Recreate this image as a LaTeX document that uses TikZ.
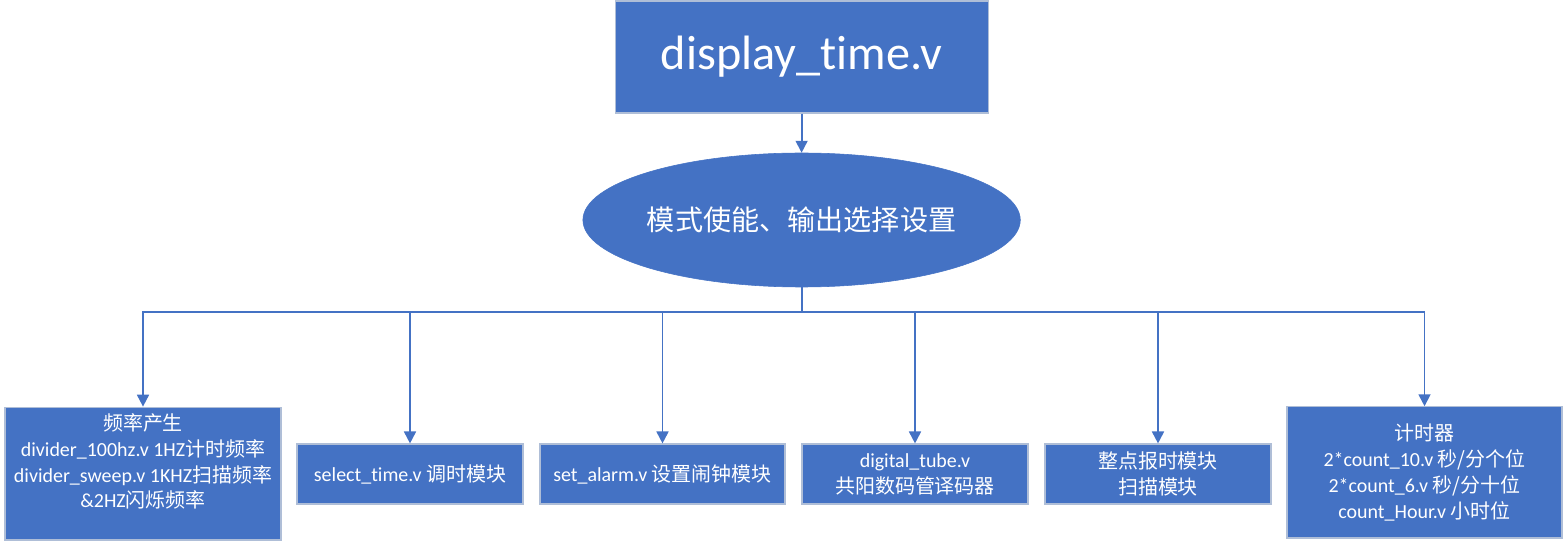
\documentclass[tikz,border=0pt]{standalone}
\usepackage{fontspec}
\setmainfont{Carlito}[Ligatures=NoCommon]
\newfontfamily\cjk{Noto Sans CJK SC}
\usepackage{tikz}
\usetikzlibrary{arrows.meta,positioning,shapes.geometric}
\definecolor{tbblue}{RGB}{68,114,196}
\definecolor{tbedge}{RGB}{175,190,215}
\tikzset{
    block/.style={
        draw=tbedge,line width=0.8pt,fill=tbblue,text=white,
        align=center,inner sep=0pt,
        font=\fontsize{14.2}{18.4}\selectfont
    },
    arrow/.style={
        -{Triangle[width=8.5pt,length=8.5pt]},line width=1.3pt,draw=tbblue
    }
}
\begin{document}
\begin{tikzpicture}
\useasboundingbox (0,0) rectangle (39.175,-13.55);

\node[block,minimum width=9.325cm,minimum height=2.8cm,
font=\fontsize{34.3}{40}\selectfont]
(top) at (20.04,-1.425) {display\_time.v};

\node[ellipse,draw=tbblue,fill=tbblue,text=white,inner sep=0pt,
minimum width=10.725cm,minimum height=3.35cm,
font={\fontsize{20}{24}\selectfont\cjk}]
(mode) at (20.04,-5.5) {模式使能、输出选择设置};

\coordinate (bus) at (20.04,-7.8);

\node[block,minimum width=6.9cm,minimum height=3.32cm]
(freq) at (3.575,-11.84)
{{\cjk 频率产生}\\
divider\_100hz.v 1HZ{\cjk 计时频率}\\
divider\_sweep.v 1KHZ{\cjk 扫描频率}\\
\&2HZ{\cjk 闪烁频率}\\ ~};

\node[block,minimum width=5.65cm,minimum height=1.5cm]
(sel) at (10.25,-11.85)
{select\_time.v {\cjk 调时模块}};

\node[block,minimum width=6.125cm,minimum height=1.5cm]
(alarm) at (16.5625,-11.85)
{set\_alarm.v {\cjk 设置闹钟模块}};

\node[block,minimum width=5.65cm,minimum height=1.5cm]
(tube) at (22.875,-11.85)
{digital\_tube.v\\ {\cjk 共阳数码管译码器}};

\node[block,minimum width=5.65cm,minimum height=1.5cm]
(chime) at (28.95,-11.85)
{{\cjk 整点报时模块}\\ {\cjk 扫描模块}};

\node[block,minimum width=6.875cm,minimum height=3.28cm]
(timer) at (35.6125,-11.81)
{{\cjk 计时器}\\
2*count\_10.v {\cjk 秒/分个位}\\
2*count\_6.v {\cjk 秒/分十位}\\
count\_Hour.v {\cjk 小时位}};

\draw[arrow] (top) -- (mode);
\draw[line width=1.3pt,draw=tbblue] (mode.south) -- (bus);
\draw[arrow] (bus) -| (freq.north);
\draw[arrow] (bus) -| (sel.north);
\draw[arrow] (bus) -| (alarm.north);
\draw[arrow] (bus) -| (tube.north);
\draw[arrow] (bus) -| (chime.north);
\draw[arrow] (bus) -| (timer.north);

\end{tikzpicture}
\end{document}
